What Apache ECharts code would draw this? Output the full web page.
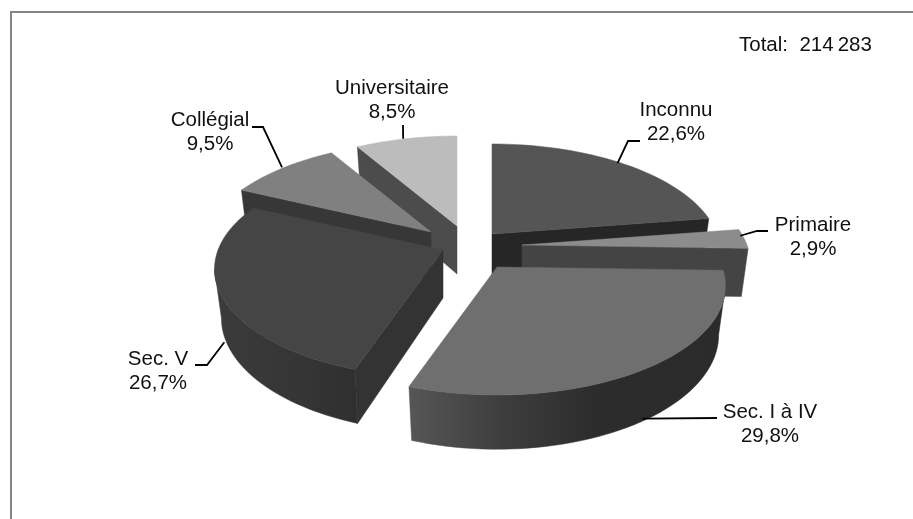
<!DOCTYPE html>
<html>
<head>
<meta charset="utf-8">
<style>html,body{margin:0;padding:0;background:#fff}#c{width:913px;height:519px}</style>
<script src="https://cdn.jsdelivr.net/npm/echarts@6/dist/echarts.min.js"></script>
</head>
<body>
<div id="c"></div>
<script>
// ---- data ----
const categories = ['Inconnu', 'Primaire', 'Sec. I à IV', 'Sec. V', 'Collégial', 'Universitaire'];
const shares = [22.6, 2.9, 29.8, 26.7, 9.5, 8.5];
const totalLabel = 'Total:  214\u2009283';

// ---- style and layout (pie projection, not data) ----
const apexes = [[492, 234], [522, 245], [497, 267], [443, 250], [431, 232], [457, 226]];
const topColors = ['#555555', '#8c8c8c', '#6f6f6f', '#454545', '#808080', '#bcbcbc'];
const wallColors = ['#262626', '#444444', '#3a3a3a', '#333333', '#373737', '#4c4c4c'];
const rimStops = [
  null, null,
  [[0, '#565656'], [0.3, '#3d3d3d'], [0.6, '#2c2c2c'], [1, '#2b2b2b']],
  [[0, '#3b3b3b'], [0.6, '#353535'], [1, '#2f2f2f']],
  null, null
];
const labelCenters = [[676, 122], [813, 237], [770, 424], [158, 371], [210, 132], [392, 100]];
const elbows = [[[628, 141], [640, 141]], [[757, 231], [768, 231]], [[717, 418]], [[207, 365], [195, 365]], [[263, 127], [252, 127]], [[403, 125]]];
const leaderNudges = [[-4, 0], [-4, -3], [1, -3], [-3, -2], [0, -1], [-3, 0]];
const drawOrder = [5, 4, 0, 3, 1, 2];
const RX = 225, RY = 105.7, PERSP = 0.174, DEPTH = 48, SHRINK = 0.97;
const FONT = '20.5px "Liberation Sans", Arial, sans-serif';

const total = shares.reduce((a, b) => a + b, 0);
const starts = [];
shares.reduce((acc, v, i) => { starts[i] = acc / total * 360; return acc + v; }, 0);

function project(apex, deg) {
  const t = deg * Math.PI / 180, s = 1 / (1 + PERSP * Math.cos(t));
  return [apex[0] + RX * Math.sin(t) * s, apex[1] - RY * Math.cos(t) * s, s];
}
function lower(apex, p) {
  const s = p[2] === undefined ? 1 : p[2];
  return [apex[0] + (p[0] - apex[0]) * SHRINK, apex[1] + (p[1] - apex[1]) * SHRINK + DEPTH * s];
}
function arc(apex, a, b) {
  const pts = [], n = Math.max(2, Math.ceil((b - a) / 2));
  for (let i = 0; i <= n; i++) pts.push(project(apex, a + (b - a) * i / n));
  return pts;
}
function poly(points, fill) {
  return { type: 'polygon', shape: { points: points.map(p => [p[0], p[1]]) }, style: { fill: fill, stroke: fill, lineWidth: 0.5 } };
}
function renderSlice(params, api) {
  const idx = api.value(1), value = api.value(0);
  const a = starts[idx], b = a + value / total * 360;
  const apex = apexes[idx];
  const kids = [];
  const wall = deg => {
    const r = project(apex, deg);
    return poly([apex, r, lower(apex, r), lower(apex, apex)], wallColors[idx]);
  };
  if (Math.sin(a * Math.PI / 180) < -1e-6) kids.push(wall(a));
  if (Math.sin(b * Math.PI / 180) > 1e-6) kids.push(wall(b));
  const ra = Math.max(a, 100), rb = Math.min(b, 260);
  if (rb > ra) {
    const up = arc(apex, ra, rb), down = up.map(p => lower(apex, p)).reverse();
    kids.push(poly(up.concat(down), new echarts.graphic.LinearGradient(0, 0, 1, 0,
      (rimStops[idx] || [[0, wallColors[idx]], [1, wallColors[idx]]]).map(s => ({ offset: s[0], color: s[1] })))));
  }
  kids.push(poly([apex].concat(arc(apex, a, b)), topColors[idx]));
  return { type: 'group', children: kids };
}
function renderLabel(params, api) {
  const idx = api.value(1), value = api.value(0);
  const mid = starts[idx] + value / total * 180;
  const apex = apexes[idx];
  let rim = project(apex, mid);
  if (Math.cos(mid * Math.PI / 180) < 0) rim = lower(apex, rim);
  const start = [rim[0] + leaderNudges[idx][0], rim[1] + leaderNudges[idx][1]];
  return {
    type: 'group',
    children: [
      { type: 'polyline', shape: { points: [start].concat(elbows[idx]) }, style: { stroke: '#000', lineWidth: 1.8, fill: null } },
      { type: 'text', x: labelCenters[idx][0], y: labelCenters[idx][1],
        style: { text: categories[idx] + '\n' + value.toFixed(1).replace('.', ',') + '%', fill: '#111', font: FONT, align: 'center', verticalAlign: 'middle', lineHeight: 24 } }
    ]
  };
}
const chart = echarts.init(document.getElementById('c'), null, { renderer: 'canvas' });
const seriesData = drawOrder.map(i => [shares[i], i]);
chart.setOption({
  animation: false,
  backgroundColor: '#fff',
  title: { text: totalLabel, left: 734, top: 30, textStyle: { fontFamily: '"Liberation Sans", Arial, sans-serif', fontSize: 20.5, fontWeight: 'normal', color: '#111' } },
  graphic: [
    { type: 'line', shape: { x1: 10, y1: 12, x2: 913, y2: 12 }, style: { stroke: '#868686', lineWidth: 2 } },
    { type: 'line', shape: { x1: 11, y1: 11, x2: 11, y2: 519 }, style: { stroke: '#868686', lineWidth: 2 } }
  ],
  series: [
    { type: 'custom', coordinateSystem: 'none', silent: true, renderItem: renderSlice, data: seriesData, z: 2 },
    { type: 'custom', coordinateSystem: 'none', silent: true, renderItem: renderLabel, data: seriesData, z: 3 }
  ]
});
</script>
</body>
</html>
